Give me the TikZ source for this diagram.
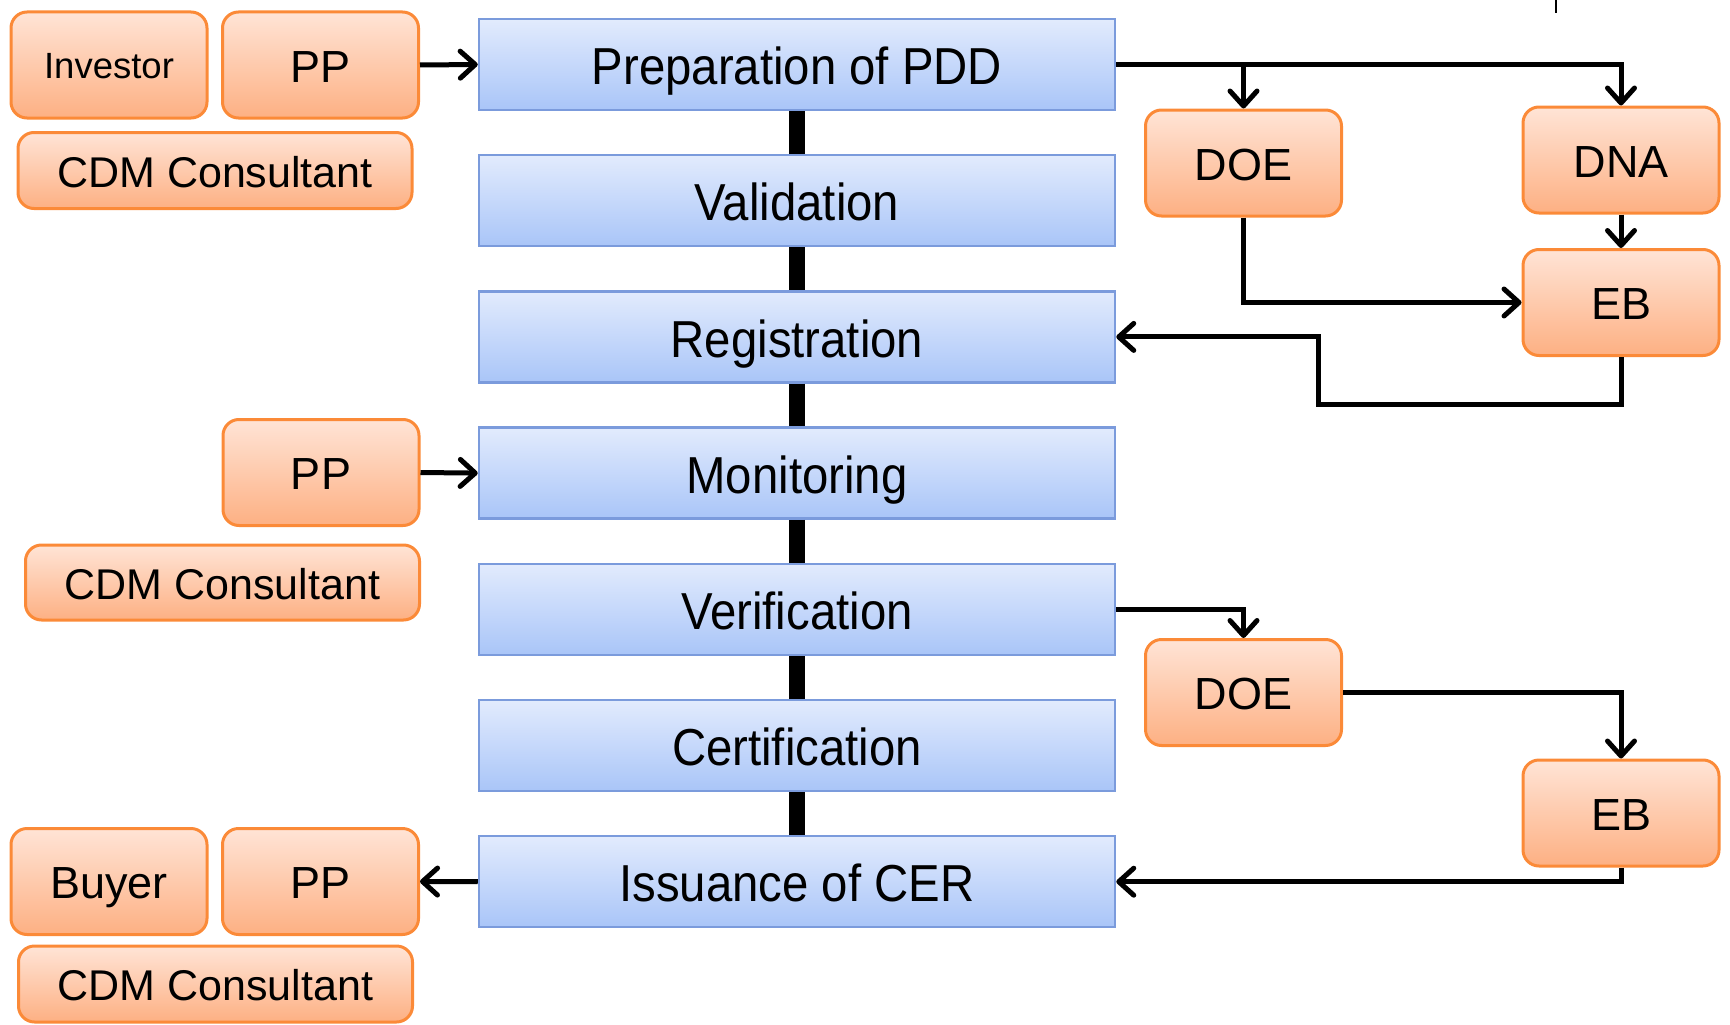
\documentclass[tikz,border=0pt]{standalone}
\usepackage{fontspec}
\usepackage{graphicx}
\setmainfont{Liberation Sans}
\usetikzlibrary{arrows.meta}
\definecolor{bluetop}{HTML}{E2EBFD}
\definecolor{bluebot}{HTML}{A9C5F8}
\definecolor{bluebd}{HTML}{7B9BDC}
\definecolor{ortop}{HTML}{FFE4D6}
\definecolor{orbot}{HTML}{FDB083}
\definecolor{orbd}{HTML}{FB8A38}
\newcommand{\bluetxt}[1]{\scalebox{0.91}[1]{#1}}
\tikzset{
  stage/.style={draw=bluebd, line width=2.5pt, top color=bluetop, bottom color=bluebot,
    minimum width=636pt, minimum height=91pt, inner sep=0pt,
    text height=40.5pt, text depth=0pt,
    font=\fontsize{52}{60}\selectfont},
  actor/.style={draw=orbd, line width=3pt, rounded corners=16pt, top color=ortop, bottom color=orbot,
    minimum width=196pt, minimum height=106pt, inner sep=0pt,
    text height=34pt, text depth=0pt,
    font=\fontsize{45}{52}\selectfont},
  wideactor/.style={actor, minimum width=394pt, minimum height=76pt, text height=33pt,
    font=\fontsize{43}{50}\selectfont},
  bar/.style={line width=16pt},
  arr/.style={line width=5pt, -{Straight Barb[length=15pt,width=27pt,round]}}
}
\begin{document}
\begin{tikzpicture}[x=1pt,y=-1pt]
\useasboundingbox (0,0) rectangle (1730,1025);
% stages
\node[stage] (prep) at (797,64.5) {\bluetxt{Preparation of PDD}};
\node[stage] (val)  at (797,200.7) {\bluetxt{Validation}};
\node[stage] (reg)  at (797,336.9) {\bluetxt{Registration}};
\node[stage] (mon)  at (797,473.1) {\bluetxt{Monitoring}};
\node[stage] (ver)  at (797,609.3) {\bluetxt{Verification}};
\node[stage] (cert) at (797,745.5) {\bluetxt{Certification}};
\node[stage] (iss)  at (797,881.7) {\bluetxt{Issuance of CER}};
% bars
\draw[bar] (prep.south) -- (val.north);
\draw[bar] (val.south) -- (reg.north);
\draw[bar] (reg.south) -- (mon.north);
\draw[bar] (mon.south) -- (ver.north);
\draw[bar] (ver.south) -- (cert.north);
\draw[bar] (cert.south) -- (iss.north);
% left actors
\node[actor, text height=28pt, font=\fontsize{36.5}{44}\selectfont] (inv) at (109,65) {Investor};
\node[actor] (pp1) at (320.5,65) {PP};
\node[wideactor] (cdm1) at (215,170.5) {CDM Consultant};
\node[actor] (pp2) at (321,472.5) {PP};
\node[wideactor, minimum height=75pt] (cdm2) at (222.5,582.5) {CDM Consultant};
\node[actor] (buyer) at (109,881.5) {Buyer};
\node[actor] (pp3) at (320.5,881.5) {PP};
\node[wideactor] (cdm3) at (215.5,984) {CDM Consultant};
% right actors
\node[actor] (doe1) at (1243.5,163) {DOE};
\node[actor] (dna) at (1621,160) {DNA};
\node[actor] (eb1) at (1621,302.5) {EB};
\node[actor] (doe2) at (1243.5,692.5) {DOE};
\node[actor] (eb2) at (1621,813) {EB};
% connectors
\draw[arr] (pp1.east) -- (prep.west);
\draw[arr] (pp2.east) -- (mon.west);
\draw[arr] (iss.west) -- (pp3.east);
\draw[arr] (prep.east) -| (dna.north);
\draw[arr] (doe1.north |- prep.east) -- (doe1.north);
\draw[arr] (dna.south) -- (eb1.north);
\draw[arr] (doe1.south) |- (eb1.west);
\coordinate (k1) at (1318,404);
\draw[arr] (eb1.south) |- (k1) |- (reg.east);
\draw[arr] (ver.east) -| (doe2.north);
\draw[arr] (doe2.east) -| (eb2.north);
\draw[arr] (eb2.south) |- (iss.east);
% small tick at top
\draw[line width=2pt] (1556,0) -- (1556,13);
\end{tikzpicture}
\end{document}
